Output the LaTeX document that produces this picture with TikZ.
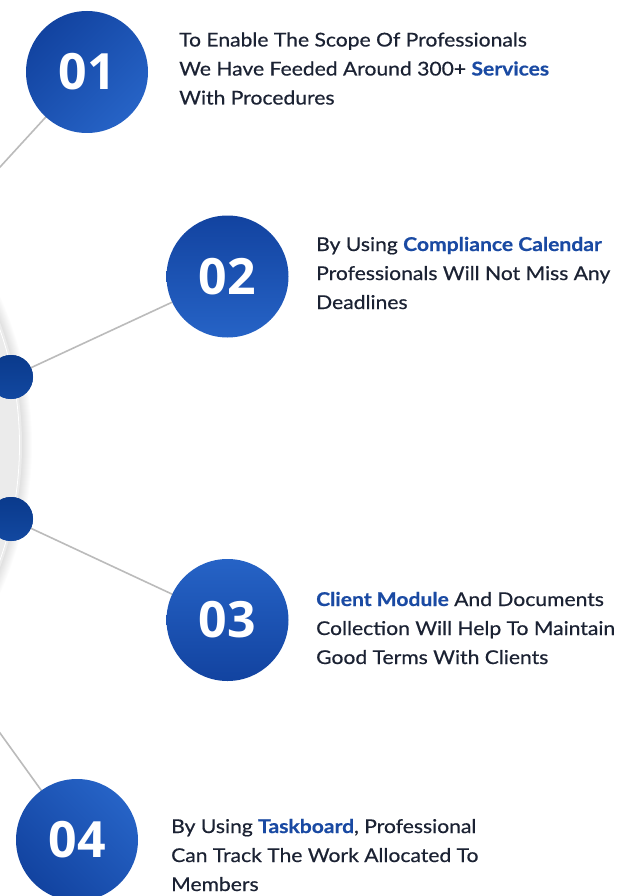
\documentclass[tikz,border=0pt]{standalone}
\usepackage{fontspec}
\setmainfont{Lato}[FakeStretch=1.11, FakeBold=0.5]
\newfontfamily\numfont{Open Sans}
\definecolor{txt}{HTML}{1B2233}
\definecolor{hl}{HTML}{1A4AA3}
\definecolor{bdark}{HTML}{1243A0}
\definecolor{blight}{HTML}{2663C6}
\definecolor{dotdark}{HTML}{0A3A8C}
\definecolor{dotlight}{HTML}{1248A0}
\definecolor{linec}{HTML}{BBBBBB}
\definecolor{hubc}{HTML}{EBEBEB}
\newcommand{\hlt}[1]{\textcolor{hl}{\bfseries #1}}
\tikzset{
  bigc/.style={circle, minimum size=122pt, inner sep=0pt, text=white,
    font=\numfont\bfseries\fontsize{50}{50}\selectfont},
  dotn/.style={circle, minimum size=44pt, inner sep=0pt, top color=dotdark, bottom color=dotlight},
  conn/.style={draw=linec, line width=1.6pt},
  txtn/.style={anchor=base west, inner sep=0pt, text=txt, font=\fontsize{19}{29}\selectfont}
}
\begin{document}
\begin{tikzpicture}[x=1pt,y=-1pt]
\useasboundingbox (0,0) rectangle (627,896);
\clip (0,0) rectangle (627,896);
\fill[white] (0,0) rectangle (627,896);
\coordinate (hub) at (-328,445);
% hub shadow
\foreach \i in {1,...,10}{
  \fill[black, opacity=0.01] (hub) circle ({350pt+\i pt});
}
\fill[hubc] (hub) circle (350pt);
\draw[white, line width=0.8pt] (hub) circle (347.5pt);
% dots on hub
\node[dotn] (d1) at (-54.5,226.6) {};
\node[dotn] (d2) at (11,377) {};
\node[dotn] (d3) at (11,519) {};
\node[dotn] (d4) at (-52.2,660.5) {};
% big circles
\coordinate (p1) at (87,72);
\coordinate (p2) at (227.5,276.5);
\coordinate (p3) at (227.5,620);
\coordinate (p4) at (77,840);
% connectors
\draw[conn] (d1.center) -- (p1);
\draw[conn] (d2.center) -- (p2);
\draw[conn] (d3.center) -- (p3);
\draw[conn] (d4.center) -- (p4);
\node[dotn] at (d2) {};
\node[dotn] at (d3) {};
\node[bigc, top color=bdark, bottom color=blight, shading angle=45] (c1) at (p1) {01};
\node[bigc, top color=bdark, bottom color=blight] (c2) at (p2) {02};
\node[bigc, top color=blight, bottom color=bdark] (c3) at (p3) {03};
\node[bigc, top color=blight, bottom color=bdark, shading angle=-45] (c4) at (p4) {04};
% texts
\node[txtn] (t1a) at (179,46.5) {To Enable The Scope Of Professionals};
\node[txtn] (t1b) at (179,75.5) {We Have Feeded Around 300+ \hlt{Services}};
\node[txtn] (t1c) at (179,104.5) {With Procedures};
\node[txtn] (t2a) at (316,251) {By Using \hlt{Compliance Calendar}};
\node[txtn] (t2b) at (316,280) {Professionals Will Not Miss Any};
\node[txtn] (t2c) at (316,309) {Deadlines};
\node[txtn] (t3a) at (316,606) {\hlt{Client Module} And Documents};
\node[txtn] (t3b) at (316,635) {Collection Will Help To Maintain};
\node[txtn] (t3c) at (316,664) {Good Terms With Clients};
\node[txtn] (t4a) at (171,833) {By Using \hlt{Taskboard}, Professional};
\node[txtn] (t4b) at (171,862) {Can Track The Work Allocated To};
\node[txtn] (t4c) at (171,891) {Members};
\end{tikzpicture}
\end{document}
